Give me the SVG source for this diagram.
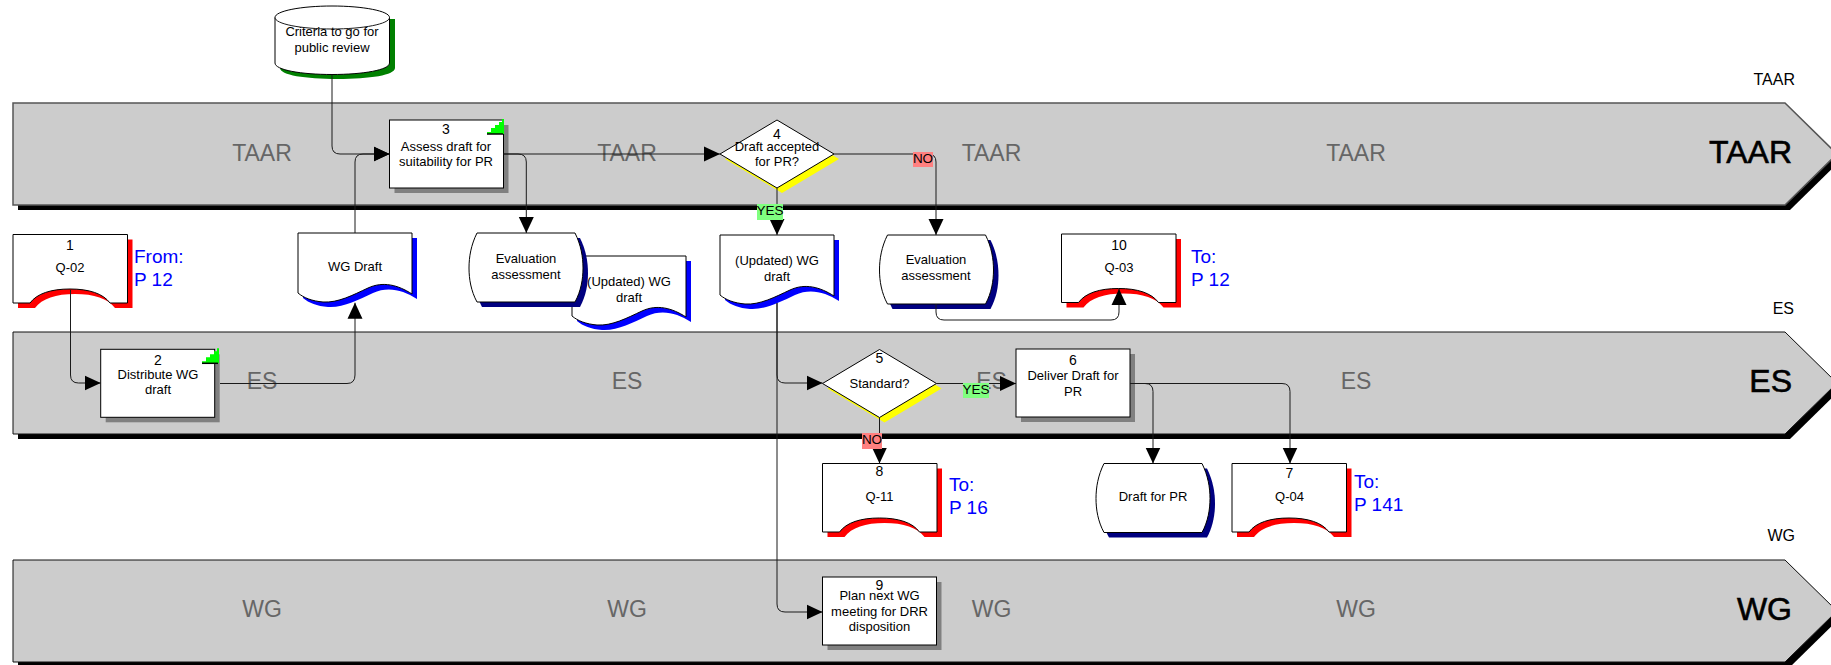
<svg xmlns="http://www.w3.org/2000/svg" width="1831" height="665" viewBox="0 0 1831 665">
<style>
text{font-family:"Liberation Sans",Arial,sans-serif;text-anchor:middle;fill:#000}
.t{font-size:13px}
.n{font-size:14px}
.bg{font-size:23px;fill:#666}
.bl{font-size:32px;text-anchor:end;stroke:#000;stroke-width:.6}
.sl{font-size:16px;text-anchor:end}
.ref{font-size:19px;fill:#00f;text-anchor:start}
.lb{font-size:13.500px}
.o{fill:#fff;stroke:#000;stroke-width:1}
.c{fill:none;stroke:#1a1a1a;stroke-width:1}
.band{fill:#ccc;stroke:#111;stroke-width:1}
.band1{stroke:#555;stroke-width:1.500}
</style>
<defs>
<marker id="a" markerUnits="userSpaceOnUse" markerWidth="16" markerHeight="16" refX="16" refY="8" orient="auto"><path d="M0 0.500L16 8L0 15.500Z" fill="#000"/></marker>
<path id="off" d="M0 0H114.500V68.500H97C90 59 76 54.500 57 54.500C38 54.500 24 59 17 68.500H0Z"/>
<path id="doc" d="M0 0H114V61C100 52 85 48 70 55C55 62 40 70 25 69C14 68 6 65 0 60Z"/>
<path id="sto" d="M8 0H106C112 12 114 24 114 35C114 46 112 58 106 69H8C2 58 0 46 0 35C0 24 2 12 8 0Z"/>
<path id="dia" d="M57 0L114 34L57 68L0 34Z"/>
<rect id="box" width="114" height="68"/>
<g id="flag"><path d="M0 14V12H4V8H8V5H12V2H15V-1H17V14Z" fill="#0f0"/><path d="M0 14H16" stroke="#000" stroke-width="1.500"/></g>
</defs>
<g id="lanes">
<path d="M18 108H1790L1842 159L1790 210H18Z" fill="#000"/>
<path class="band band1" d="M13 103H1785L1837 154L1785 205H13Z"/>
<path d="M18 337H1790L1842 388L1790 439H18Z" fill="#000"/>
<path class="band" d="M13 332H1785L1837 383L1785 434H13Z"/>
<path d="M18 565H1790L1842 616L1790 667H18Z" fill="#000"/>
<path class="band" d="M13 560H1785L1837 611L1785 662H13Z"/>
<text class="bg" x="262" y="160.700">TAAR</text><text class="bg" x="627" y="160.700">TAAR</text><text class="bg" x="991.500" y="160.700">TAAR</text><text class="bg" x="1356" y="160.700">TAAR</text>
<text class="bg" x="262" y="389">ES</text><text class="bg" x="627" y="389">ES</text><text class="bg" x="991.500" y="389">ES</text><text class="bg" x="1356" y="389">ES</text>
<text class="bg" x="262" y="617">WG</text><text class="bg" x="627" y="617">WG</text><text class="bg" x="991.500" y="617">WG</text><text class="bg" x="1356" y="617">WG</text>
<text class="bl" x="1792" y="163">TAAR</text><text class="bl" x="1792" y="392">ES</text><text class="bl" x="1792" y="620">WG</text>
<text class="sl" x="1795" y="85">TAAR</text><text class="sl" x="1794" y="314">ES</text><text class="sl" x="1795" y="541">WG</text>
</g>
<g id="n-criteria">
<path d="M280 19H395V68C395 75 370 79 337.500 79C305 79 280 75 280 68Z" fill="#008000"/>
<path class="o" d="M275 17.500C275 11 301 6 332 6C363 6 389.500 11 389.500 17.500V63C389.500 70 363 74.500 332 74.500C301 74.500 275 70 275 63Z"/>
<path class="c" d="M275 17.500C275 24 301 29 332 29C363 29 389.500 24 389.500 17.500"/>
<text class="t" x="332" y="36">Criteria to go for</text><text class="t" x="332" y="52">public review</text>
</g>
<g id="n3"><use href="#box" x="394.500" y="125" fill="#808080"/><use href="#box" x="389.500" y="120" class="o"/>
<use href="#flag" x="487" y="120"/>
<text class="n" x="446" y="134">3</text><text class="t" x="446" y="150.700">Assess draft for</text><text class="t" x="446" y="165.700">suitability for PR</text></g>
<g id="n1"><use href="#off" x="18" y="239.500" fill="#f00"/><use href="#off" x="13" y="234.500" class="o"/>
<text class="n" x="70" y="250">1</text><text class="t" x="70" y="272">Q-02</text></g>
<text class="ref" x="134" y="263">From:</text><text class="ref" x="134" y="286">P 12</text>
<g id="d-wg"><use href="#doc" x="303" y="238" fill="#00f"/><use href="#doc" x="298" y="233" class="o"/><text class="t" x="355" y="271">WG Draft</text></g>
<g id="d-upd1"><use href="#doc" x="577" y="261" fill="#00f"/><use href="#doc" x="572" y="256" class="o"/><text class="t" x="629" y="286">(Updated) WG</text><text class="t" x="629" y="302">draft</text></g>
<g id="s-eval1"><use href="#sto" x="474" y="238" fill="#000080"/><use href="#sto" x="469" y="233" class="o"/><text class="t" x="526" y="263">Evaluation</text><text class="t" x="526" y="279">assessment</text></g>
<g id="n4"><use href="#dia" x="725" y="125" fill="#ff0"/><use href="#dia" x="720" y="120" class="o"/><text class="n" x="777" y="139">4</text><text class="t" x="777" y="151">Draft accepted</text><text class="t" x="777" y="165.500">for PR?</text></g>
<g id="d-upd2"><use href="#doc" x="725" y="240" fill="#00f"/><use href="#doc" x="720" y="235" class="o"/><text class="t" x="777" y="265">(Updated) WG</text><text class="t" x="777" y="281">draft</text></g>
<g id="s-eval2"><use href="#sto" x="884.500" y="240" fill="#000080"/><use href="#sto" x="879.500" y="235" class="o"/><text class="t" x="936" y="264">Evaluation</text><text class="t" x="936" y="280">assessment</text></g>
<g id="n10"><use href="#off" x="1066.500" y="239" fill="#f00"/><use href="#off" x="1061.500" y="234" class="o"/><text class="n" x="1119" y="250">10</text><text class="t" x="1119" y="272">Q-03</text></g>
<text class="ref" x="1191" y="263">To:</text><text class="ref" x="1191" y="286">P 12</text>
<g id="n2"><use href="#box" x="105.700" y="354.300" fill="#808080"/><use href="#box" x="100.700" y="349.300" class="o"/><use href="#flag" x="202" y="349.300"/><text class="n" x="158" y="365">2</text><text class="t" x="158" y="379">Distribute WG</text><text class="t" x="158" y="394">draft</text></g>
<g id="n5"><use href="#dia" x="827.500" y="354.500" fill="#ff0"/><use href="#dia" x="822.500" y="349.500" class="o"/><text class="n" x="879.500" y="363">5</text><text class="t" x="879.500" y="388">Standard?</text></g>
<g id="n6"><use href="#box" x="1021" y="354" fill="#808080"/><use href="#box" x="1016" y="349" class="o"/><text class="n" x="1073" y="365">6</text><text class="t" x="1073" y="380">Deliver Draft for</text><text class="t" x="1073" y="396">PR</text></g>
<g id="n8"><use href="#off" x="827.500" y="468.500" fill="#f00"/><use href="#off" x="822.500" y="463.500" class="o"/><text class="n" x="879.500" y="475.500">8</text><text class="t" x="879.500" y="501">Q-11</text></g>
<text class="ref" x="949" y="491">To:</text><text class="ref" x="949" y="514">P 16</text>
<g id="s-draft"><use href="#sto" x="1101" y="468.500" fill="#000080"/><use href="#sto" x="1096" y="463.500" class="o"/><text class="t" x="1153" y="501">Draft for PR</text></g>
<g id="n7"><use href="#off" x="1237" y="468.500" fill="#f00"/><use href="#off" x="1232" y="463.500" class="o"/><text class="n" x="1289.500" y="478">7</text><text class="t" x="1289.500" y="501">Q-04</text></g>
<text class="ref" x="1354" y="488">To:</text><text class="ref" x="1354" y="511">P 141</text>
<g id="n9"><use href="#box" x="827.500" y="582" fill="#808080"/><use href="#box" x="822.500" y="577" class="o"/><text class="n" x="879.500" y="590">9</text><text class="t" x="879.500" y="600">Plan next WG</text><text class="t" x="879.500" y="616">meeting for DRR</text><text class="t" x="879.500" y="631">disposition</text></g>
<g id="connectors">
<path class="c" marker-end="url(#a)" d="M332 74.500V146Q332 154 340 154H389.500"/>
<path class="c" marker-end="url(#a)" d="M355 233V162Q355 154 363 154H389.500"/>
<path class="c" marker-end="url(#a)" d="M70.500 290V375Q70.500 383 78.500 383H100.700"/>
<path class="c" marker-end="url(#a)" d="M220 383.500H347Q355 383.500 355 375V302.700"/>
<path class="c" marker-end="url(#a)" d="M503.500 154H518Q526.300 154 526.300 162V233"/>
<path class="c" marker-end="url(#a)" d="M503.500 154H720"/>
<path class="c" marker-end="url(#a)" d="M777 188V235"/>
<path class="c" marker-end="url(#a)" d="M833.500 154H928Q936 154 936 162V235"/>
<path class="c" marker-end="url(#a)" d="M936 304V312Q936 320 944 320H1111Q1119 320 1119 312V289"/>
<path class="c" marker-end="url(#a)" d="M777 303V375Q777 383 785 383H822.500"/>
<path class="c" marker-end="url(#a)" d="M777 303V604Q777 612 785 612H822.500"/>
<path class="c" marker-end="url(#a)" d="M936.500 383.500H1016"/>
<path class="c" marker-end="url(#a)" d="M879.500 417.500V463.500"/>
<path class="c" marker-end="url(#a)" d="M1130 383.500H1145Q1153 383.500 1153 391.500V463.500"/>
<path class="c" marker-end="url(#a)" d="M1130 383.500H1282Q1290 383.500 1290 391.500V463.500"/>
<rect x="757" y="204" width="26" height="16" fill="#80ff80"/><text class="lb" x="770" y="215">YES</text>
<rect x="913" y="152" width="20" height="15" fill="#ff8080"/><text class="lb" x="923" y="163">NO</text>
<rect x="963" y="383" width="26" height="15" fill="#80ff80"/><text class="lb" x="976" y="394">YES</text>
<rect x="862" y="433" width="20" height="16" fill="#ff8080"/><text class="lb" x="872" y="444">NO</text>
</g>
</svg>
